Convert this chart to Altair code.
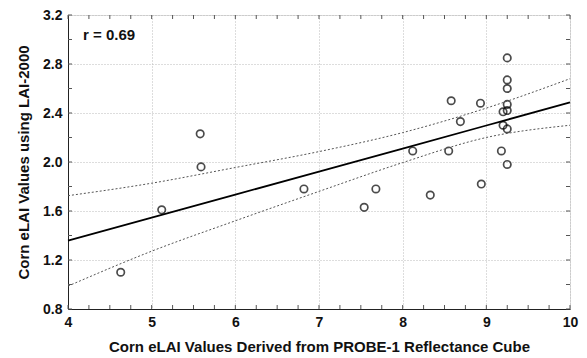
import altair as alt
import pandas as pd

# Observed points
px = [4.63, 5.12, 5.58, 5.59, 6.82, 7.54, 7.68, 8.12, 8.33, 8.55, 8.58, 8.69,
      8.93, 8.94, 9.18, 9.20, 9.20, 9.25, 9.25, 9.25, 9.25, 9.25, 9.25, 9.25]
py = [1.10, 1.61, 2.23, 1.96, 1.78, 1.63, 1.78, 2.09, 1.73, 2.09, 2.50, 2.33,
      2.48, 1.82, 2.09, 2.41, 2.30, 2.85, 2.67, 2.60, 2.47, 2.42, 2.27, 1.98]

# Regression line and confidence bands
band_x = [4, 5, 6, 7, 8, 9, 10]
fit_y = [1.358, 1.546, 1.734, 1.922, 2.110, 2.298, 2.486]
upper_y = [1.725, 1.827, 1.955, 2.085, 2.240, 2.440, 2.680]
lower_y = [0.987, 1.272, 1.520, 1.760, 1.995, 2.200, 2.300]

x_major = [4, 5, 6, 7, 8, 9, 10]
y_major = [0.8, 1.2, 1.6, 2.0, 2.4, 2.8, 3.2]
x_minor = [4 + 0.25 * i for i in range(25)]
y_minor = [0.8 + 0.2 * i for i in range(13)]

label_x = [4.18]
label_y = [3.04]
label_text = ["r = 0.69"]

W, H = 502, 294
FONT = "Liberation Sans"

xs = alt.Scale(domain=[4, 10], nice=False, zero=False)
ys = alt.Scale(domain=[0.8, 3.2], nice=False, zero=False)

pts = pd.DataFrame({"x": px, "y": py})
fit = pd.DataFrame({"x": band_x, "y": fit_y})
up = pd.DataFrame({"x": band_x, "y": upper_y})
lo = pd.DataFrame({"x": band_x, "y": lower_y})
xm = pd.DataFrame({"v": x_minor})
ym = pd.DataFrame({"v": y_minor})
lab = pd.DataFrame({"x": label_x, "y": label_y, "t": label_text})

xaxis = alt.Axis(values=x_major, format="d", title="Corn eLAI Values Derived from PROBE-1 Reflectance Cube",
                 grid=True, gridDash=[1, 2], gridColor="#bbbbbb", tickSize=0, labelPadding=6,
                 labelFont=FONT, labelFontSize=14, labelFontWeight="bold", labelColor="#111",
                 titleFont=FONT, titleFontSize=15, titleFontWeight="bold", titleColor="#111",
                 titlePadding=10, domainColor="#222", labelFlush=False)
yaxis = alt.Axis(values=y_major, format=".1f", title="Corn eLAI Values using LAI-2000",
                 grid=True, gridDash=[1, 2], gridColor="#bbbbbb", tickSize=0, labelPadding=6,
                 labelFont=FONT, labelFontSize=14, labelFontWeight="bold", labelColor="#111",
                 titleFont=FONT, titleFontSize=15, titleFontWeight="bold", titleColor="#111",
                 titlePadding=11, domainColor="#222", labelFlush=False)

base_pts = alt.Chart(pts).mark_point(shape="circle", filled=False, color="black",
                                     size=55, strokeWidth=1.7).encode(
    x=alt.X("x:Q", scale=xs, axis=xaxis),
    y=alt.Y("y:Q", scale=ys, axis=yaxis),
)

fit_line = alt.Chart(fit).mark_line(color="black", strokeWidth=1.8).encode(
    x=alt.X("x:Q", scale=xs), y=alt.Y("y:Q", scale=ys))
up_line = alt.Chart(up).mark_line(color="#555", strokeWidth=1, strokeDash=[2, 2],
                                  interpolate="monotone").encode(
    x=alt.X("x:Q", scale=xs), y=alt.Y("y:Q", scale=ys))
lo_line = alt.Chart(lo).mark_line(color="#555", strokeWidth=1, strokeDash=[2, 2],
                                  interpolate="monotone").encode(
    x=alt.X("x:Q", scale=xs), y=alt.Y("y:Q", scale=ys))

tick_col = "#555"
xt_bot = alt.Chart(xm).mark_rule(color=tick_col, strokeWidth=1).encode(
    x=alt.X("v:Q", scale=xs), y=alt.value(H), y2=alt.value(H - 4))
xt_top = alt.Chart(xm).mark_rule(color=tick_col, strokeWidth=1).encode(
    x=alt.X("v:Q", scale=xs), y=alt.value(0), y2=alt.value(4))
yt_left = alt.Chart(ym).mark_rule(color=tick_col, strokeWidth=1).encode(
    y=alt.Y("v:Q", scale=ys), x=alt.value(0), x2=alt.value(4))
yt_right = alt.Chart(ym).mark_rule(color=tick_col, strokeWidth=1).encode(
    y=alt.Y("v:Q", scale=ys), x=alt.value(W - 4), x2=alt.value(W))

txt = alt.Chart(lab).mark_text(align="left", baseline="middle", font=FONT, fontSize=15,
                               fontWeight="bold", color="#111").encode(
    x=alt.X("x:Q", scale=xs), y=alt.Y("y:Q", scale=ys), text="t:N")

chart = alt.layer(base_pts, up_line, lo_line, fit_line, xt_bot, xt_top, yt_left, yt_right, txt).properties(
    width=W, height=H,
    autosize=alt.AutoSizeParams(type="none"),
    padding={"left": 60, "top": 7, "right": 9, "bottom": 49},
).configure_view(stroke="#888", strokeWidth=1).configure(background="white")

chart.save("out.html", embed_options={"renderer": "svg", "actions": False})
